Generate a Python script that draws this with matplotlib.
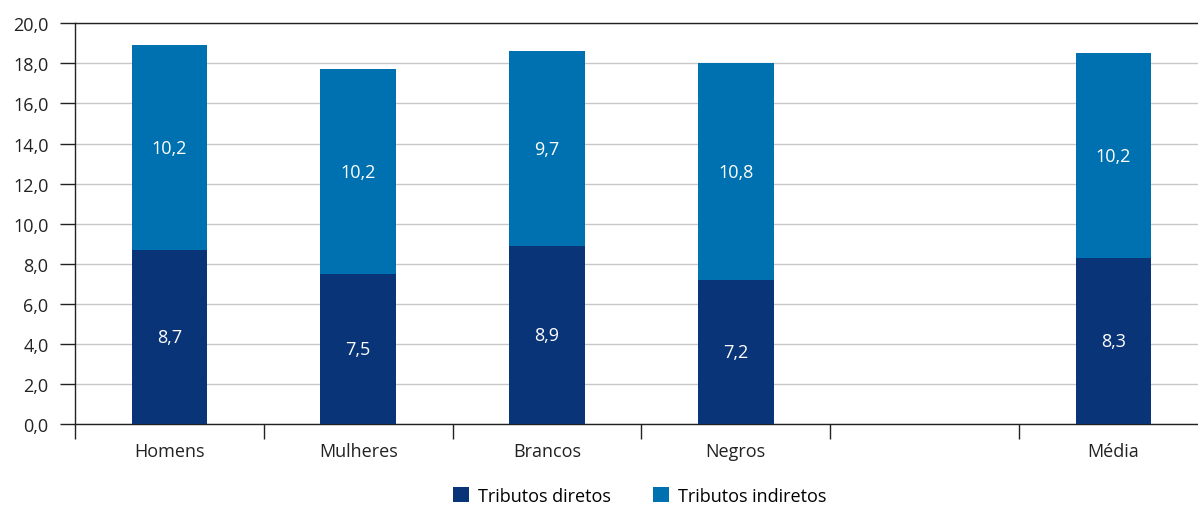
import matplotlib.pyplot as plt
from matplotlib.ticker import FixedLocator, NullFormatter

categorias = ['Homens', 'Mulheres', 'Brancos', 'Negros', '', 'Média']
diretos = [8.7, 7.5, 8.9, 7.2, None, 8.3]
indiretos = [10.2, 10.2, 9.7, 10.8, None, 10.2]
yticks = [0, 2, 4, 6, 8, 10, 12, 14, 16, 18, 20]

cor_dir = '#0a3478'
cor_ind = '#0071b0'

plt.rcParams['font.family'] = ['Open Sans', 'DejaVu Sans']

fig = plt.figure(figsize=(11.98, 5.06), dpi=100)
ax = fig.add_axes([0.0626, 0.160, 0.9374, 0.792])

xs = [i for i, d in enumerate(diretos) if d is not None]
d_vals = [diretos[i] for i in xs]
i_vals = [indiretos[i] for i in xs]

b1 = ax.bar(xs, d_vals, width=0.4, color=cor_dir, label='Tributos diretos', zorder=3)
b2 = ax.bar(xs, i_vals, width=0.4, bottom=d_vals, color=cor_ind, label='Tributos indiretos', zorder=3)

for x, d, ind in zip(xs, d_vals, i_vals):
    ax.text(x, d / 2, f'{d:.1f}'.replace('.', ','), ha='center', va='center',
            color='white', fontsize=13, zorder=4)
    ax.text(x, d + ind / 2, f'{ind:.1f}'.replace('.', ','), ha='center', va='center',
            color='white', fontsize=13, zorder=4)

ax.set_ylim(0, 20)
ax.set_xlim(-0.5, 5.448)
ax.set_yticks(yticks)
ax.set_yticklabels([f'{v:.1f}'.replace('.', ',') for v in yticks], fontsize=13, color='#222222')
ax.yaxis.grid(True, color='#c8c8c8', linewidth=1, zorder=0)

ax.set_xticks(range(len(categorias)))
ax.set_xticklabels(categorias, fontsize=13, color='#222222')
ax.tick_params(axis='x', which='major', length=0, pad=13)
ax.xaxis.set_minor_locator(FixedLocator([i - 0.5 for i in range(len(categorias))]))
ax.xaxis.set_minor_formatter(NullFormatter())
ax.tick_params(axis='x', which='minor', length=11, width=1, color='#222222')
ax.tick_params(axis='y', length=11, width=1, color='#222222', pad=8)

ax.spines['right'].set_visible(False)
for s in ['top', 'left', 'bottom']:
    ax.spines[s].set_color('#222222')
    ax.spines[s].set_linewidth(1)

fig.legend(handles=[b1, b2], loc='center', bbox_to_anchor=(0.534, 0.018), ncol=2,
           frameon=False, fontsize=13, handlelength=0.9, handleheight=0.9,
           columnspacing=2.3, handletextpad=0.5)

fig.savefig('out.png', dpi=100)
